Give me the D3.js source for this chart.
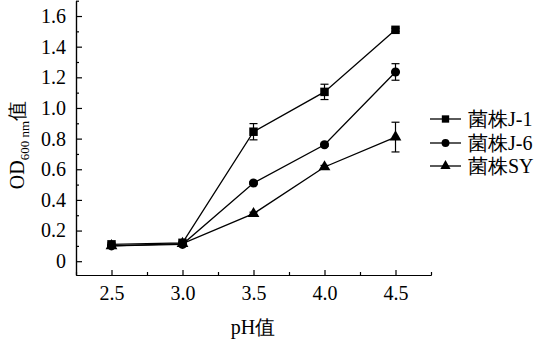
<!DOCTYPE html>
<html>
<head>
<meta charset="utf-8">
<script src="https://cdn.jsdelivr.net/npm/d3@7"></script>
<style>
  html, body { margin: 0; padding: 0; background: #fff; }
  svg text { font-family: "Liberation Serif", "Times New Roman", serif; fill: #000; }
</style>
</head>
<body>
<svg id="chart" width="540" height="345"></svg>
<script>
// pH values tested
const phValues = [2.5, 3.0, 3.5, 4.0, 4.5];
const xTicks = [2.5, 3.0, 3.5, 4.0, 4.5];
const yTicks = [0, 0.2, 0.4, 0.6, 0.8, 1.0, 1.2, 1.4, 1.6];

const seriesNames = ["菌株J-1", "菌株J-6", "菌株SY"];
const seriesShapes = ["square", "circle", "triangle"];

// OD600 means
const odJ1 = [0.11, 0.12, 0.845, 1.105, 1.51];
const odJ6 = [0.10, 0.11, 0.51, 0.76, 1.235];
const odSY = [0.10, 0.115, 0.31, 0.615, 0.81];

// standard deviations
const sdJ1 = [0.01, 0.01, 0.053, 0.05, 0.01];
const sdJ6 = [0.01, 0.01, 0.01, 0.01, 0.054];
const sdSY = [0.01, 0.01, 0.01, 0.01, 0.097];

const series = [
  { name: seriesNames[0], shape: seriesShapes[0], values: odJ1, sd: sdJ1 },
  { name: seriesNames[1], shape: seriesShapes[1], values: odJ6, sd: sdJ6 },
  { name: seriesNames[2], shape: seriesShapes[2], values: odSY, sd: sdSY }
];

const svg = d3.select("#chart");

const x = d3.scaleLinear().domain([2.25, 4.75]).range([76, 431]);
const y = d3.scaleLinear().domain([-0.09, 1.7]).range([275, 0.7]);

// axes: ticks point into the plot
const xAxis = d3.axisBottom(x).tickValues(xTicks).tickSize(-5).tickSizeOuter(0)
  .tickFormat(d3.format(".1f")).tickPadding(11);
const xMinor = d3.axisBottom(x).tickValues(d3.range(2.25, 4.76, 0.5)).tickSize(-3).tickSizeOuter(0).tickFormat("");
const yAxis = d3.axisLeft(y).tickValues(yTicks).tickSize(-6).tickSizeOuter(0)
  .tickFormat(d => d === 0 ? "0" : d3.format(".1f")(d)).tickPadding(10);
const yMinor = d3.axisLeft(y).tickValues(d3.range(0.1, 1.71, 0.2)).tickSize(-3).tickSizeOuter(0).tickFormat("");

function styleAxis(g) {
  g.selectAll("path, line").attr("stroke", "#000").attr("stroke-width", 1.2);
  g.selectAll("text").attr("font-size", 20).attr("font-family", "Liberation Serif, serif");
}

svg.append("g").attr("transform", "translate(0,275)").call(xMinor).call(styleAxis);
svg.append("g").attr("transform", "translate(0,275)").call(xAxis).call(styleAxis);
svg.append("g").attr("transform", "translate(76,0)").call(yMinor).call(styleAxis);
svg.append("g").attr("transform", "translate(76,0)").call(yAxis).call(styleAxis);

// axis titles
svg.append("text")
  .attr("x", 253).attr("y", 334)
  .attr("text-anchor", "middle")
  .attr("font-size", 20)
  .text("pH值");

const yTitle = svg.append("text")
  .attr("transform", "translate(24,145) rotate(-90)")
  .attr("text-anchor", "middle")
  .attr("font-size", 20);
yTitle.append("tspan").text("OD");
yTitle.append("tspan").attr("font-size", 13).attr("dy", 5).text("600 nm");
yTitle.append("tspan").attr("dy", -5).text("值");

const symbolSize = { square: 72, circle: 65, triangle: 60 };
const symbolType = { square: d3.symbolSquare, circle: d3.symbolCircle, triangle: d3.symbolTriangle };

const line = d3.line().x((d, i) => x(phValues[i])).y(d => y(d));

series.forEach(s => {
  const g = svg.append("g");
  g.append("path")
    .attr("d", line(s.values))
    .attr("fill", "none")
    .attr("stroke", "#000")
    .attr("stroke-width", 1.3);

  // error bars
  s.values.forEach((v, i) => {
    const cx = x(phValues[i]);
    const y1 = y(v + s.sd[i]), y2 = y(v - s.sd[i]);
    const eb = g.append("g").attr("stroke", "#000").attr("stroke-width", 1.2);
    eb.append("line").attr("x1", cx).attr("x2", cx).attr("y1", y1).attr("y2", y2);
    eb.append("line").attr("x1", cx - 4).attr("x2", cx + 4).attr("y1", y1).attr("y2", y1);
    eb.append("line").attr("x1", cx - 4).attr("x2", cx + 4).attr("y1", y2).attr("y2", y2);
  });

  g.selectAll("path.marker")
    .data(s.values)
    .join("path")
    .attr("class", "marker")
    .attr("transform", (d, i) => `translate(${x(phValues[i])},${y(d)})`)
    .attr("d", d3.symbol().type(symbolType[s.shape]).size(symbolSize[s.shape]))
    .attr("fill", "#000");
});

// legend
const legend = svg.append("g");
const legendY = [119, 143, 166];
series.forEach((s, i) => {
  const ly = legendY[i];
  legend.append("line")
    .attr("x1", 430).attr("x2", 461).attr("y1", ly).attr("y2", ly)
    .attr("stroke", "#000").attr("stroke-width", 1.3);
  legend.append("path")
    .attr("transform", `translate(445.5,${ly})`)
    .attr("d", d3.symbol().type(symbolType[s.shape]).size(symbolSize[s.shape] * 0.75))
    .attr("fill", "#000");
  legend.append("text")
    .attr("x", 468).attr("y", ly + 7)
    .attr("font-size", 20)
    .text(s.name);
});
</script>
</body>
</html>
